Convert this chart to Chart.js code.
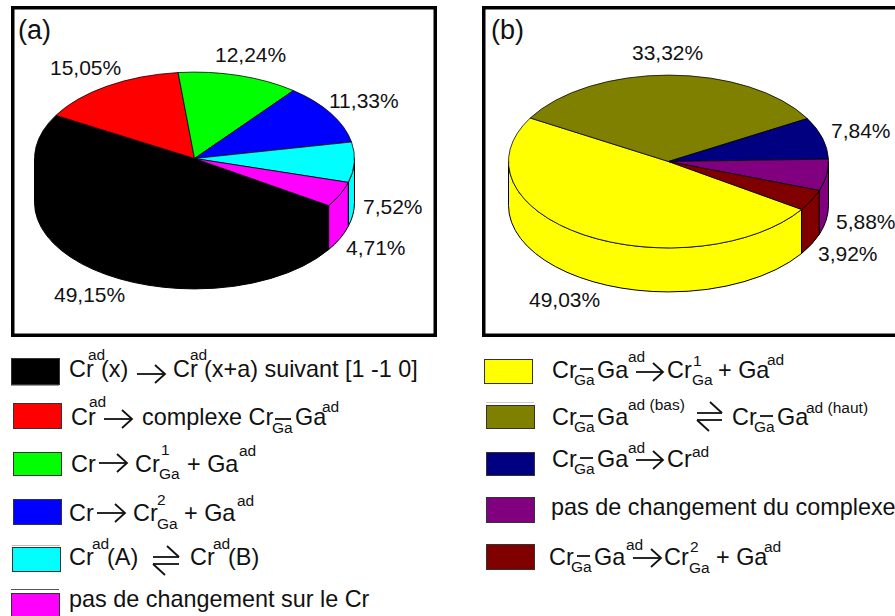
<!DOCTYPE html>
<html>
<head>
<meta charset="utf-8">
<title>Cr pie charts</title>
<script src="https://cdn.jsdelivr.net/npm/chart.js"></script>
<style>
    html, body { margin: 0; padding: 0; background: #fff; overflow: hidden; }
    body { position: relative; width: 895px; height: 616px; }
    canvas, svg { position: absolute; }
    svg { left: 0; top: 0; }
    text { font-family: "Liberation Sans", Arial, sans-serif; fill: #111; }
</style>
</head>
<body>
<svg id="overlay" width="895" height="616" xmlns="http://www.w3.org/2000/svg"></svg>
<canvas id="pieA" width="321" height="321" style="left:34px;top:-2px"></canvas>
<canvas id="pieB" width="321" height="321" style="left:508px;top:1px"></canvas>
<script>
// chart (a)
const categoriesA = [
    'Cr ad (x) → Cr ad (x+a) suivant [1 -1 0]',
    'Cr ad → complexe Cr Ga -Ga ad',
    'Cr → Cr 1 Ga + Ga ad',
    'Cr → Cr 2 Ga + Ga ad',
    'Cr ad (A) ⇌ Cr ad (B)',
    'pas de changement sur le Cr'
];
const valuesA = [49.15, 15.05, 12.24, 11.33, 7.52, 4.71];
const colorsA = ['#000000', '#ff0000', '#00ff00', '#0000ff', '#00ffff', '#ff00ff'];

// chart (b)
const categoriesB = [
    'Cr Ga -Ga ad → Cr 1 Ga + Ga ad',
    'Cr Ga -Ga ad (bas) ⇌ Cr Ga -Ga ad (haut)',
    'Cr Ga -Ga ad → Cr ad',
    'pas de changement du complexe',
    'Cr Ga -Ga ad → Cr 2 Ga + Ga ad'
];
const valuesB = [49.03, 33.32, 7.84, 5.88, 3.92];
const colorsB = ['#ffff00', '#808000', '#000080', '#800080', '#800000'];

const tilt = 0.54;    // ellipse height / width of the top face
const depth = 44;     // height of the cylinder wall
const edge = '#000000';

const svg = document.getElementById('overlay');
const NS = 'http://www.w3.org/2000/svg';

function el(name, attrs, content) {
    const e = document.createElementNS(NS, name);
    Object.keys(attrs).forEach(k => e.setAttribute(k, attrs[k]));
    if (content !== undefined) e.textContent = content;
    svg.appendChild(e);
    return e;
}
function txt(x, y, s, size) {
    el('text', { x: x, y: y, 'font-size': size || 23.4 }, s);
}
const sup = (x, y, s) => txt(x, y, s, 15.5);
function line(x1, y1, x2, y2, w, color) {
    el('line', { x1, y1, x2, y2, stroke: color || '#111', 'stroke-width': w || 1.8 });
}
function arrow(x1, x2, y) {
    line(x1, y, x2, y);
    el('path', { d: `M${x2 - 10} ${y - 9}L${x2} ${y}L${x2 - 10} ${y + 9}`, fill: 'none', stroke: '#111', 'stroke-width': 1.8 });
}
function equil(x1, x2, y1, y2) {
    line(x1, y1, x2, y1);
    line(x2, y1, x2 - 12, y1 - 11);
    line(x1, y2, x2, y2);
    line(x1, y2, x1 + 12, y2 + 11);
}
function swatch(x, y, w, h, color) {
    el('rect', { x: x + 0.5, y: y + 0.5, width: w, height: h, fill: color, stroke: '#333', 'stroke-width': 1 });
}
function frame(x, y, w, h) {
    el('rect', { x: x, y: y, width: w, height: h, fill: 'none', stroke: '#000', 'stroke-width': 3.5 });
}
// Cr(Ga)-Ga group: Cr, subscript Ga with the bond above it, then Ga
function complexe(x, y) {
    txt(x, y, 'Cr');
    txt(x + 22, y + 7, 'Ga', 15.5);
    line(x + 28, y - 9, x + 41, y - 9);
    txt(x + 45, y, 'Ga');
}
function pct(v) {
    return v.toFixed(2).replace('.', ',') + '%';
}

// frames
frame(12.75, 7.75, 422.5, 327.5);
frame(483.75, 7.75, 430, 327.5);
txt(18, 39, '(a)', 27);
txt(491, 39, '(b)', 27);

// slice labels, same order as the values
const labelAtA = [[54, 302], [50, 75], [215, 62], [329, 108], [363, 214], [346, 255]];
const labelAtB = [[529, 307], [632, 60], [831, 138], [836, 229], [818, 261]];
valuesA.forEach((v, i) => txt(labelAtA[i][0], labelAtA[i][1], pct(v), 21));
valuesB.forEach((v, i) => txt(labelAtB[i][0], labelAtB[i][1], pct(v), 21));

// legend swatches
const swatchA = [[11, 358, 48, 26], [13, 403, 48, 25], [13, 452, 48, 23], [13, 499, 48, 25], [12, 547, 48, 24], [11, 593, 48, 24]];
const swatchB = [[484, 359, 48, 24], [486, 405, 48, 23], [486, 452, 48, 23], [486, 497, 48, 25], [486, 544, 48, 25]];
colorsA.forEach((c, i) => swatch(...swatchA[i], c));
colorsB.forEach((c, i) => swatch(...swatchB[i], c));
line(11, 385.5, 59, 385.5, 1, '#999');
line(12, 545.5, 60, 545.5, 1, '#bbb');
line(11, 589.5, 59, 589.5, 1, '#555');
line(486, 402.5, 534, 402.5, 1, '#ccc');

// legend (a) text
txt(69, 377, 'Cr'); sup(88, 360, 'ad'); txt(101, 377, '(x)');
arrow(137, 165, 374);
txt(173, 377, 'Cr'); sup(190, 360, 'ad'); txt(204, 377, '(x+a) suivant [1 -1 0]');

txt(71, 425, 'Cr'); sup(89, 407, 'ad');
arrow(104, 132, 419);
txt(142, 425, 'complexe Cr'); sup(272, 433, 'Ga');
line(275, 419, 291, 419);
txt(295, 425, 'Ga'); sup(322, 412, 'ad');

txt(71, 472, 'Cr');
arrow(99, 127, 463);
txt(135, 472, 'Cr'); sup(161, 455, '1'); sup(159, 479, 'Ga');
txt(187, 472, '+ Ga'); sup(239, 456, 'ad');

txt(69, 521, 'Cr');
arrow(97, 125, 513);
txt(133, 521, 'Cr'); sup(157, 505, '2'); sup(157, 529, 'Ga');
txt(184, 521, '+ Ga'); sup(237, 506, 'ad');

txt(69, 565, 'Cr'); sup(92, 549, 'ad'); txt(107, 565, '(A)');
equil(153, 179, 557, 564);
txt(190, 565, 'Cr'); sup(213, 549, 'ad'); txt(228, 565, '(B)');

txt(69, 607, 'pas de changement sur le Cr');

// legend (b) text
complexe(552, 378); sup(628, 362, 'ad');
arrow(636, 663, 372);
txt(667, 378, 'Cr'); sup(693, 366, '1'); sup(692, 385, 'Ga');
txt(718, 378, '+ Ga'); sup(767, 365, 'ad');

complexe(552, 425); sup(628, 410, 'ad (bas)');
equil(697, 722, 413, 420);
complexe(732, 425); sup(806, 413, 'ad (haut)');

complexe(552, 467); sup(628, 453, 'ad');
arrow(636, 663, 460);
txt(667, 467, 'Cr'); sup(692, 457, 'ad');

txt(551, 515, 'pas de changement du complexe');

complexe(549, 565); sup(626, 550, 'ad');
arrow(633, 661, 558);
txt(664, 565, 'Cr'); sup(690, 552, '2'); sup(689, 573, 'Ga');
txt(716, 565, '+ Ga'); sup(764, 552, 'ad');

// squashes the pie into an ellipse and adds the cylinder wall under it
const cylinder = {
    id: 'cylinder',
    beforeDatasetsDraw(chart) {
        const ctx = chart.ctx;
        const arcs = chart.getDatasetMeta(0).data;
        const colors = chart.data.datasets[0].backgroundColor;
        const wall = (arc, s, e, lift) => {
            const ry = arc.outerRadius * tilt;
            ctx.beginPath();
            ctx.ellipse(arc.x, arc.y - lift, arc.outerRadius, ry, 0, s, e);
            ctx.ellipse(arc.x, arc.y + depth, arc.outerRadius, ry, 0, e, s, true);
            ctx.closePath();
        };
        ctx.save();
        ctx.lineWidth = 1;
        ctx.strokeStyle = edge;
        arcs.forEach((arc, i) => {
            // only the part facing the viewer, angles 0..PI (and one turn later)
            [0, 2 * Math.PI].forEach(turn => {
                const s = Math.max(arc.startAngle, turn);
                const e = Math.min(arc.endAngle, turn + Math.PI);
                if (e <= s) return;
                // fill runs a little under the top face so no seam shows
                wall(arc, s, e, 2);
                ctx.fillStyle = colors[i];
                ctx.fill();
                wall(arc, s, e, 0);
                ctx.stroke();
            });
        });
        ctx.restore();

        const cx = arcs[0].x, cy = arcs[0].y;
        ctx.save();
        ctx.translate(cx, cy);
        ctx.scale(1, tilt);
        ctx.translate(-cx, -cy);
    },
    afterDatasetsDraw(chart) {
        chart.ctx.restore();
    }
};

function makePie(id, labels, values, colors, rotation) {
    return new Chart(document.getElementById(id).getContext('2d'), {
        type: 'pie',
        data: {
            labels: labels,
            datasets: [{
                data: values,
                backgroundColor: colors,
                borderColor: edge,
                borderWidth: 1,
                clip: false
            }]
        },
        options: {
            responsive: false,
            animation: false,
            rotation: rotation,
            plugins: { legend: { display: false }, tooltip: { enabled: false } }
        },
        plugins: [cylinder]
    });
}

makePie('pieA', categoriesA, valuesA, colorsA, 123);
makePie('pieB', categoriesB, valuesB, colorsB, 123.7);
</script>
</body>
</html>
